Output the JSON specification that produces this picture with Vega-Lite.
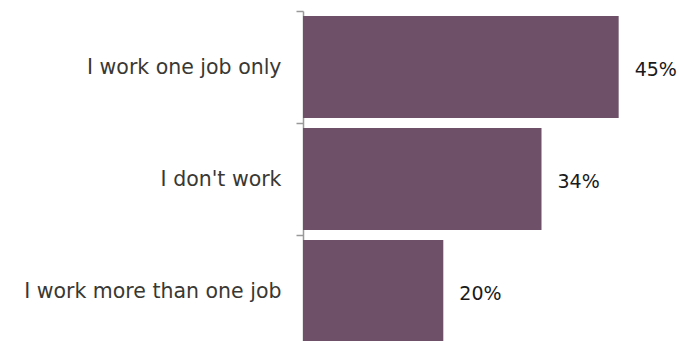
{
  "$schema": "https://vega.github.io/schema/vega-lite/v6.json",
  "autosize": "none",
  "padding": {"left": 303, "top": 11, "right": 0, "bottom": 0},
  "width": 376,
  "height": 330,
  "background": "white",
  "config": {"view": {"stroke": null}},
  "data": {"values": [
    {"answer": "I work one job only", "pct": 0.45},
    {"answer": "I don't work", "pct": 0.34},
    {"answer": "I work more than one job", "pct": 0.20}
  ]},
  "encoding": {
    "y": {
      "field": "answer", "type": "nominal", "sort": null, "title": null,
      "scale": {"range": [0, 336], "paddingInner": 0, "paddingOuter": 0},
      "axis": {
        "tickBand": "extent",
        "domainColor": "#999999", "domainWidth": 1.5,
        "tickColor": "#999999", "tickWidth": 1.5, "tickSize": 7,
        "labelFont": "DejaVu Sans", "labelFontSize": 20.5, "labelColor": "#3a3833",
        "labelPadding": 15, "labelLimit": 320
      }
    }
  },
  "layer": [
    {
      "mark": {"type": "bar", "color": "#6e5168", "height": {"band": 0.911}},
      "encoding": {
        "x": {"field": "pct", "type": "quantitative", "scale": {"domain": [0, 0.536]}, "axis": null}
      }
    },
    {
      "mark": {"type": "text", "align": "left", "baseline": "middle", "dx": 16, "dy": 3, "font": "DejaVu Sans", "fontSize": 19, "color": "#1a1a1a"},
      "encoding": {
        "x": {"field": "pct", "type": "quantitative", "scale": {"domain": [0, 0.536]}, "axis": null},
        "text": {"field": "pct", "type": "quantitative", "format": ".0%"}
      }
    }
  ]
}
